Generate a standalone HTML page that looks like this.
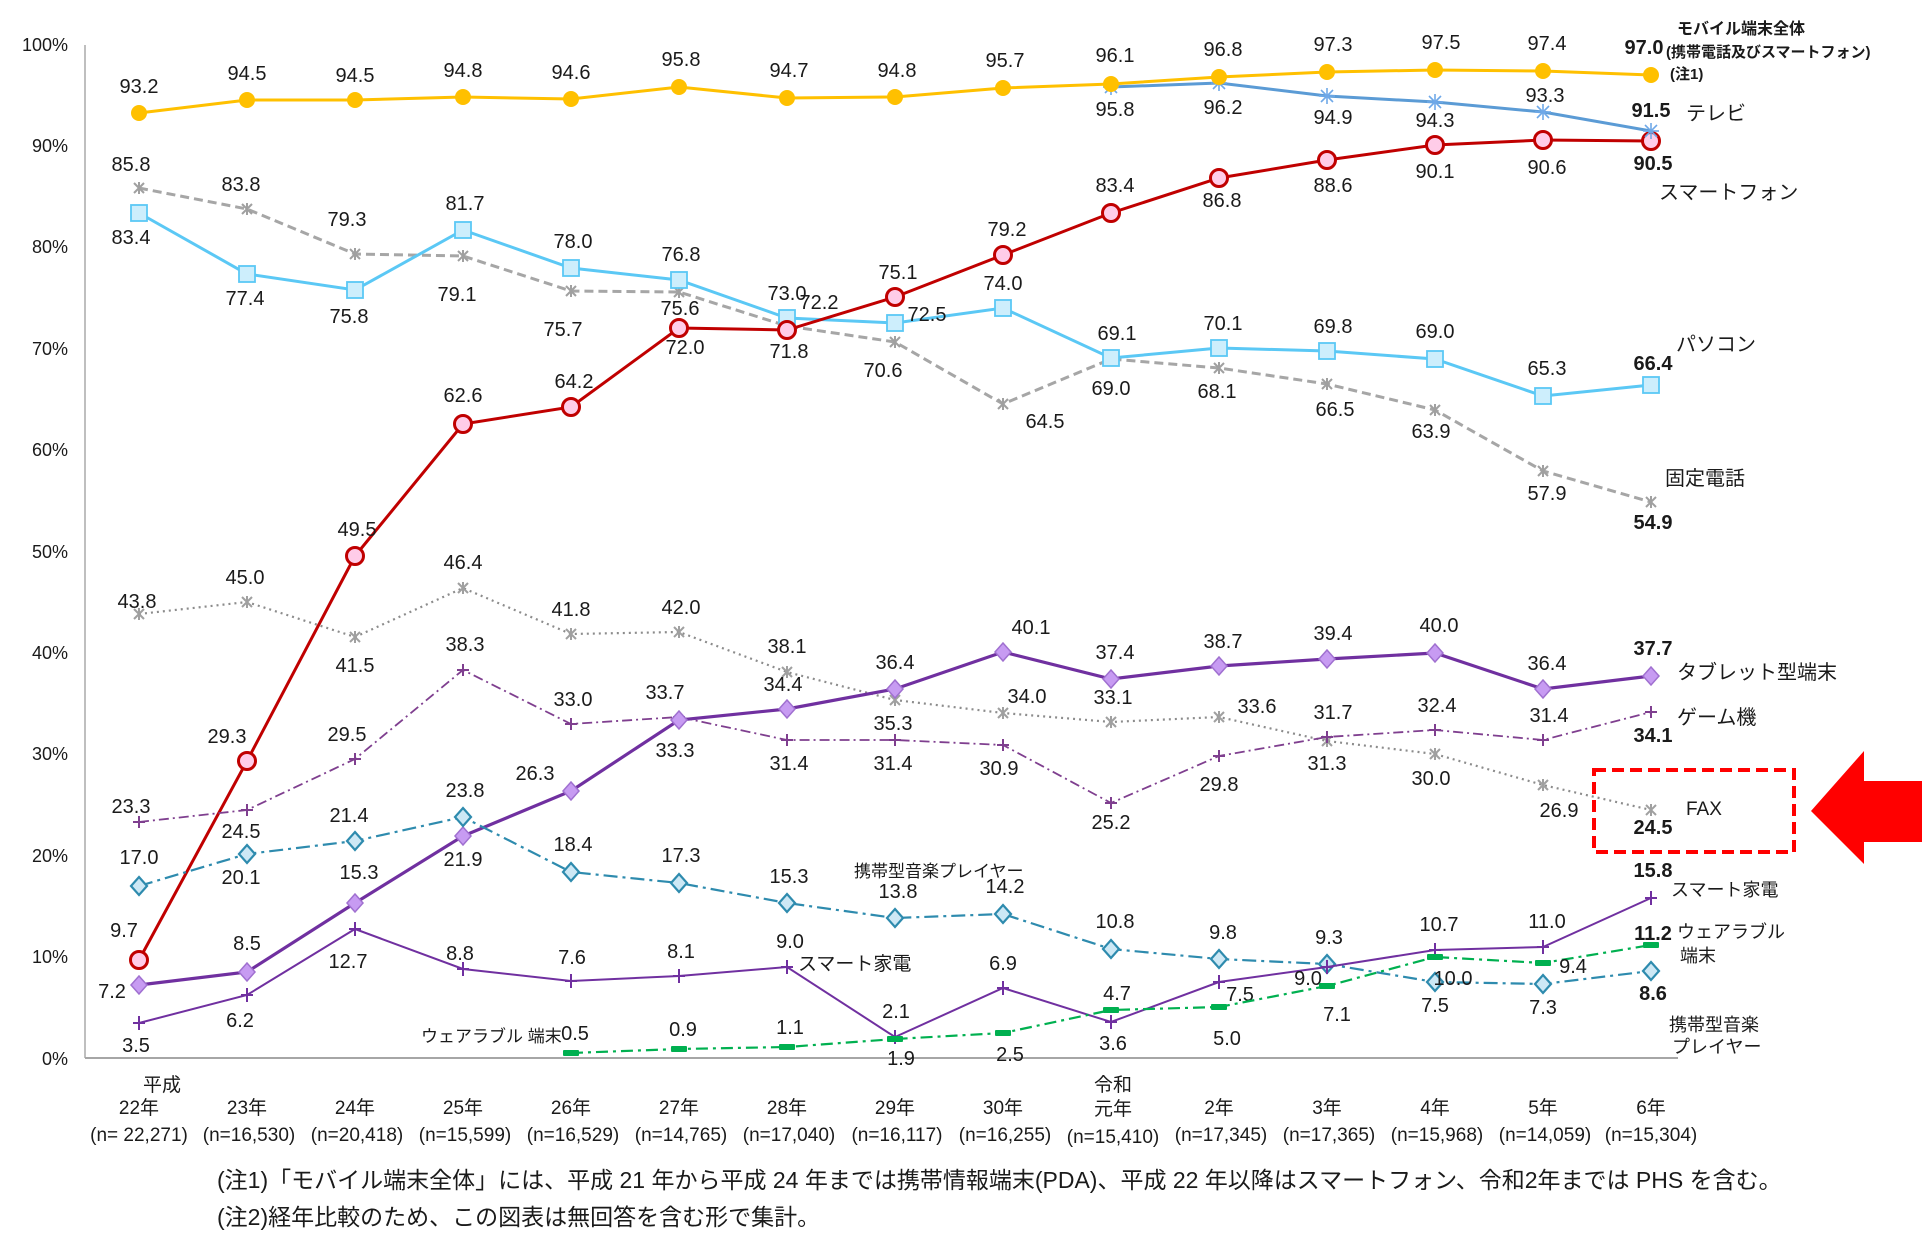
<!DOCTYPE html>
<html><head><meta charset="utf-8"><style>
html,body{margin:0;padding:0;background:#fff}
svg{display:block}
text{font-family:"Liberation Sans","Noto Sans CJK JP",sans-serif;fill:#1a1a1a}
.v{font-size:20px;text-anchor:middle}
.b{font-weight:bold}
.ax{font-size:18px;text-anchor:end}
.c{font-size:19px;text-anchor:middle}
.j{font-size:19px}
</style></head><body>
<svg width="1931" height="1247" viewBox="0 0 1931 1247" xmlns="http://www.w3.org/2000/svg">
<defs>
<g id="mo"><circle r="8" fill="#FFC000"/></g>
<g id="tv" stroke="#6FA8E8" stroke-width="1.6"><line x1="-8" y1="0" x2="8" y2="0"/><line x1="0" y1="-8" x2="0" y2="8"/><line x1="-6" y1="-6" x2="6" y2="6"/><line x1="-6" y1="6" x2="6" y2="-6"/></g>
<g id="sp"><circle r="8.5" fill="#FFCCE8" stroke="#C00000" stroke-width="3"/></g>
<g id="pc"><rect x="-8" y="-8" width="16" height="16" fill="#CDEEFC" stroke="#5BC8F5" stroke-width="1.8"/></g>
<g id="xg" stroke="#A0A0A0" stroke-width="2"><line x1="-5" y1="-5" x2="5" y2="5"/><line x1="-5" y1="5" x2="5" y2="-5"/><line x1="0" y1="-6" x2="0" y2="6"/></g>
<g id="tb"><path d="M0,-9 L8,0 L0,9 L-8,0Z" fill="#C79BF2" stroke="#A070D0" stroke-width="1.5"/></g>
<g id="gm" stroke="#7F3F8F" stroke-width="2"><line x1="-6" y1="0" x2="6" y2="0"/><line x1="0" y1="-6" x2="0" y2="6"/></g>
<g id="mu"><path d="M0,-9 L8,0 L0,9 L-8,0Z" fill="#CDE8F5" stroke="#2E8BAE" stroke-width="2.2"/></g>
<g id="ap" stroke="#7030A0" stroke-width="2"><line x1="-6" y1="0" x2="6" y2="0"/><line x1="0" y1="-7" x2="0" y2="7"/></g>
<g id="we"><rect x="-8" y="-3" width="16" height="6" rx="1" fill="#00B050"/></g>
</defs>

<line x1="85" y1="45" x2="85" y2="1058" stroke="#BFBFBF" stroke-width="2"/>
<line x1="85" y1="1058" x2="1678" y2="1058" stroke="#A6A6A6" stroke-width="2"/>
<text class="ax" x="68" y="51">100%</text>
<text class="ax" x="68" y="152">90%</text>
<text class="ax" x="68" y="253">80%</text>
<text class="ax" x="68" y="355">70%</text>
<text class="ax" x="68" y="456">60%</text>
<text class="ax" x="68" y="558">50%</text>
<text class="ax" x="68" y="659">40%</text>
<text class="ax" x="68" y="760">30%</text>
<text class="ax" x="68" y="862">20%</text>
<text class="ax" x="68" y="963">10%</text>
<text class="ax" x="68" y="1065">0%</text>

<g class="c">
<text class="c" x="162" y="1091">平成</text>
<text class="c" x="139" y="1114">22年</text><text class="c" x="247" y="1114">23年</text><text class="c" x="355" y="1114">24年</text><text class="c" x="463" y="1114">25年</text><text class="c" x="571" y="1114">26年</text><text class="c" x="679" y="1114">27年</text><text class="c" x="787" y="1114">28年</text><text class="c" x="895" y="1114">29年</text><text class="c" x="1003" y="1114">30年</text>
<text class="c" x="1113" y="1091">令和</text><text class="c" x="1113" y="1115">元年</text>
<text class="c" x="1219" y="1114">2年</text><text class="c" x="1327" y="1114">3年</text><text class="c" x="1435" y="1114">4年</text><text class="c" x="1543" y="1114">5年</text><text class="c" x="1651" y="1114">6年</text>
<text class="c" x="139" y="1141">(n= 22,271)</text><text class="c" x="249" y="1141">(n=16,530)</text><text class="c" x="357" y="1141">(n=20,418)</text><text class="c" x="465" y="1141">(n=15,599)</text><text class="c" x="573" y="1141">(n=16,529)</text><text class="c" x="681" y="1141">(n=14,765)</text><text class="c" x="789" y="1141">(n=17,040)</text><text class="c" x="897" y="1141">(n=16,117)</text><text class="c" x="1005" y="1141">(n=16,255)</text><text class="c" x="1113" y="1143">(n=15,410)</text><text class="c" x="1221" y="1141">(n=17,345)</text><text class="c" x="1329" y="1141">(n=17,365)</text><text class="c" x="1437" y="1141">(n=15,968)</text><text class="c" x="1545" y="1141">(n=14,059)</text><text class="c" x="1651" y="1141">(n=15,304)</text>
</g>
<text x="217" y="1188" style="font-size:23px">(注1)「モバイル端末全体」には、平成 21 年から平成 24 年までは携帯情報端末(PDA)、平成 22 年以降はスマートフォン、令和2年までは PHS を含む。</text>
<text x="217" y="1225" style="font-size:23px">(注2)経年比較のため、この図表は無回答を含む形で集計。</text>

<polyline fill="none" stroke="#8C8C8C" stroke-width="2.2" stroke-dasharray="2,4" points="139,614 247,602 355,637 463,588 571,634 679,632 787,672 895,700 1003,713 1111,722 1219,717 1327,741 1435,754 1543,785 1651,810"/>
<g fill="none"><use href="#xg" x="139" y="614"/><use href="#xg" x="247" y="602"/><use href="#xg" x="355" y="637"/><use href="#xg" x="463" y="588"/><use href="#xg" x="571" y="634"/><use href="#xg" x="679" y="632"/><use href="#xg" x="787" y="672"/><use href="#xg" x="895" y="700"/><use href="#xg" x="1003" y="713"/><use href="#xg" x="1111" y="722"/><use href="#xg" x="1219" y="717"/><use href="#xg" x="1327" y="741"/><use href="#xg" x="1435" y="754"/><use href="#xg" x="1543" y="785"/><use href="#xg" x="1651" y="810"/></g>
<text class="v" x="137" y="608">43.8</text><text class="v" x="245" y="584">45.0</text><text class="v" x="355" y="672">41.5</text><text class="v" x="463" y="569">46.4</text><text class="v" x="571" y="616">41.8</text><text class="v" x="681" y="614">42.0</text><text class="v" x="787" y="653">38.1</text><text class="v" x="893" y="730">35.3</text><text class="v" x="1027" y="703">34.0</text><text class="v" x="1113" y="704">33.1</text><text class="v" x="1257" y="713">33.6</text><text class="v" x="1327" y="770">31.3</text><text class="v" x="1431" y="785">30.0</text><text class="v" x="1559" y="817">26.9</text><text class="v b" x="1653" y="834">24.5</text>

<polyline fill="none" stroke="#A6A6A6" stroke-width="3" stroke-dasharray="9,5" points="139,188 247,209 355,254 463,256 571,291 679,292 787,326 895,342 1003,404 1111,359 1219,368 1327,384 1435,410 1543,471 1651,502"/>
<g><use href="#xg" x="139" y="188"/><use href="#xg" x="247" y="209"/><use href="#xg" x="355" y="254"/><use href="#xg" x="463" y="256"/><use href="#xg" x="571" y="291"/><use href="#xg" x="679" y="292"/><use href="#xg" x="787" y="326"/><use href="#xg" x="895" y="342"/><use href="#xg" x="1003" y="404"/><use href="#xg" x="1111" y="359"/><use href="#xg" x="1219" y="368"/><use href="#xg" x="1327" y="384"/><use href="#xg" x="1435" y="410"/><use href="#xg" x="1543" y="471"/><use href="#xg" x="1651" y="502"/></g>
<text class="v" x="131" y="171">85.8</text><text class="v" x="241" y="191">83.8</text><text class="v" x="347" y="226">79.3</text><text class="v" x="457" y="301">79.1</text><text class="v" x="563" y="336">75.7</text><text class="v" x="680" y="315">75.6</text><text class="v" x="819" y="309">72.2</text><text class="v" x="883" y="377">70.6</text><text class="v" x="1045" y="428">64.5</text><text class="v" x="1111" y="395">69.0</text><text class="v" x="1217" y="398">68.1</text><text class="v" x="1335" y="416">66.5</text><text class="v" x="1431" y="438">63.9</text><text class="v" x="1547" y="500">57.9</text><text class="v b" x="1653" y="529">54.9</text>

<polyline fill="none" stroke="#5BC8F5" stroke-width="3" points="139,213 247,274 355,290 463,230 571,268 679,280 787,318 895,323 1003,308 1111,358 1219,348 1327,351 1435,359 1543,396 1651,385"/>
<g><use href="#pc" x="139" y="213"/><use href="#pc" x="247" y="274"/><use href="#pc" x="355" y="290"/><use href="#pc" x="463" y="230"/><use href="#pc" x="571" y="268"/><use href="#pc" x="679" y="280"/><use href="#pc" x="787" y="318"/><use href="#pc" x="895" y="323"/><use href="#pc" x="1003" y="308"/><use href="#pc" x="1111" y="358"/><use href="#pc" x="1219" y="348"/><use href="#pc" x="1327" y="351"/><use href="#pc" x="1435" y="359"/><use href="#pc" x="1543" y="396"/><use href="#pc" x="1651" y="385"/></g>
<text class="v" x="131" y="244">83.4</text><text class="v" x="245" y="305">77.4</text><text class="v" x="349" y="323">75.8</text><text class="v" x="465" y="210">81.7</text><text class="v" x="573" y="248">78.0</text><text class="v" x="681" y="261">76.8</text><text class="v" x="787" y="300">73.0</text><text class="v" x="927" y="321">72.5</text><text class="v" x="1003" y="290">74.0</text><text class="v" x="1117" y="340">69.1</text><text class="v" x="1223" y="330">70.1</text><text class="v" x="1333" y="333">69.8</text><text class="v" x="1435" y="338">69.0</text><text class="v" x="1547" y="375">65.3</text><text class="v b" x="1653" y="370">66.4</text>

<polyline fill="none" stroke="#C00000" stroke-width="3" points="139,960 247,761 355,556 463,424 571,407 679,328 787,330 895,297 1003,255 1111,213 1219,178 1327,160 1435,145 1543,140 1651,141"/>
<g><use href="#sp" x="139" y="960"/><use href="#sp" x="247" y="761"/><use href="#sp" x="355" y="556"/><use href="#sp" x="463" y="424"/><use href="#sp" x="571" y="407"/><use href="#sp" x="679" y="328"/><use href="#sp" x="787" y="330"/><use href="#sp" x="895" y="297"/><use href="#sp" x="1003" y="255"/><use href="#sp" x="1111" y="213"/><use href="#sp" x="1219" y="178"/><use href="#sp" x="1327" y="160"/><use href="#sp" x="1435" y="145"/><use href="#sp" x="1543" y="140"/><use href="#sp" x="1651" y="141"/></g>
<text class="v" x="124" y="937">9.7</text><text class="v" x="227" y="743">29.3</text><text class="v" x="357" y="536">49.5</text><text class="v" x="463" y="402">62.6</text><text class="v" x="574" y="388">64.2</text><text class="v" x="685" y="354">72.0</text><text class="v" x="789" y="358">71.8</text><text class="v" x="898" y="279">75.1</text><text class="v" x="1007" y="236">79.2</text><text class="v" x="1115" y="192">83.4</text><text class="v" x="1222" y="207">86.8</text><text class="v" x="1333" y="192">88.6</text><text class="v" x="1435" y="178">90.1</text><text class="v" x="1547" y="174">90.6</text><text class="v b" x="1653" y="170">90.5</text>

<polyline fill="none" stroke="#5B9BD5" stroke-width="3" points="1111,87 1219,83 1327,96 1435,102 1543,112 1651,131"/>
<g><use href="#tv" x="1111" y="87"/><use href="#tv" x="1219" y="83"/><use href="#tv" x="1327" y="96"/><use href="#tv" x="1435" y="102"/><use href="#tv" x="1543" y="112"/><use href="#tv" x="1651" y="131"/></g>
<text class="v" x="1115" y="116">95.8</text><text class="v" x="1223" y="114">96.2</text><text class="v" x="1333" y="124">94.9</text><text class="v" x="1435" y="127">94.3</text><text class="v" x="1545" y="102">93.3</text><text class="v b" x="1651" y="117">91.5</text>

<polyline fill="none" stroke="#FFC000" stroke-width="3" points="139,113 247,100 355,100 463,97 571,99 679,87 787,98 895,97 1003,88 1111,84 1219,77 1327,72 1435,70 1543,71 1651,75"/>
<g><use href="#mo" x="139" y="113"/><use href="#mo" x="247" y="100"/><use href="#mo" x="355" y="100"/><use href="#mo" x="463" y="97"/><use href="#mo" x="571" y="99"/><use href="#mo" x="679" y="87"/><use href="#mo" x="787" y="98"/><use href="#mo" x="895" y="97"/><use href="#mo" x="1003" y="88"/><use href="#mo" x="1111" y="84"/><use href="#mo" x="1219" y="77"/><use href="#mo" x="1327" y="72"/><use href="#mo" x="1435" y="70"/><use href="#mo" x="1543" y="71"/><use href="#mo" x="1651" y="75"/></g>
<text class="v" x="139" y="93">93.2</text><text class="v" x="247" y="80">94.5</text><text class="v" x="355" y="82">94.5</text><text class="v" x="463" y="77">94.8</text><text class="v" x="571" y="79">94.6</text><text class="v" x="681" y="66">95.8</text><text class="v" x="789" y="77">94.7</text><text class="v" x="897" y="77">94.8</text><text class="v" x="1005" y="67">95.7</text><text class="v" x="1115" y="62">96.1</text><text class="v" x="1223" y="56">96.8</text><text class="v" x="1333" y="51">97.3</text><text class="v" x="1441" y="49">97.5</text><text class="v" x="1547" y="50">97.4</text><text class="v b" x="1644" y="54">97.0</text>

<polyline fill="none" stroke="#7F3F8F" stroke-width="1.8" stroke-dasharray="10,4,2,4" points="139,822 247,810 355,759 463,670 571,724 679,717 787,740 895,740 1003,745 1111,803 1219,756 1327,737 1435,730 1543,740 1651,712"/>
<g><use href="#gm" x="139" y="822"/><use href="#gm" x="247" y="810"/><use href="#gm" x="355" y="759"/><use href="#gm" x="463" y="670"/><use href="#gm" x="571" y="724"/><use href="#gm" x="679" y="717"/><use href="#gm" x="787" y="740"/><use href="#gm" x="895" y="740"/><use href="#gm" x="1003" y="745"/><use href="#gm" x="1111" y="803"/><use href="#gm" x="1219" y="756"/><use href="#gm" x="1327" y="737"/><use href="#gm" x="1435" y="730"/><use href="#gm" x="1543" y="740"/><use href="#gm" x="1651" y="712"/></g>
<text class="v" x="131" y="813">23.3</text><text class="v" x="241" y="838">24.5</text><text class="v" x="347" y="741">29.5</text><text class="v" x="465" y="651">38.3</text><text class="v" x="573" y="706">33.0</text><text class="v" x="665" y="699">33.7</text><text class="v" x="789" y="770">31.4</text><text class="v" x="893" y="770">31.4</text><text class="v" x="999" y="775">30.9</text><text class="v" x="1111" y="829">25.2</text><text class="v" x="1219" y="791">29.8</text><text class="v" x="1333" y="719">31.7</text><text class="v" x="1437" y="712">32.4</text><text class="v" x="1549" y="722">31.4</text><text class="v b" x="1653" y="742">34.1</text>

<polyline fill="none" stroke="#7030A0" stroke-width="3.2" points="139,985 247,972 355,903 463,836 571,791 679,720 787,709 895,689 1003,652 1111,679 1219,666 1327,659 1435,653 1543,689 1651,676"/>
<g><use href="#tb" x="139" y="985"/><use href="#tb" x="247" y="972"/><use href="#tb" x="355" y="903"/><use href="#tb" x="463" y="836"/><use href="#tb" x="571" y="791"/><use href="#tb" x="679" y="720"/><use href="#tb" x="787" y="709"/><use href="#tb" x="895" y="689"/><use href="#tb" x="1003" y="652"/><use href="#tb" x="1111" y="679"/><use href="#tb" x="1219" y="666"/><use href="#tb" x="1327" y="659"/><use href="#tb" x="1435" y="653"/><use href="#tb" x="1543" y="689"/><use href="#tb" x="1651" y="676"/></g>
<text class="v" x="112" y="998">7.2</text><text class="v" x="247" y="950">8.5</text><text class="v" x="359" y="879">15.3</text><text class="v" x="463" y="866">21.9</text><text class="v" x="535" y="780">26.3</text><text class="v" x="675" y="757">33.3</text><text class="v" x="783" y="691">34.4</text><text class="v" x="895" y="669">36.4</text><text class="v" x="1031" y="634">40.1</text><text class="v" x="1115" y="659">37.4</text><text class="v" x="1223" y="648">38.7</text><text class="v" x="1333" y="640">39.4</text><text class="v" x="1439" y="632">40.0</text><text class="v" x="1547" y="670">36.4</text><text class="v b" x="1653" y="655">37.7</text>

<polyline fill="none" stroke="#2E8BAE" stroke-width="2.2" stroke-dasharray="14,5,3,5" points="139,886 247,854 355,841 463,817 571,872 679,883 787,903 895,918 1003,914 1111,949 1219,959 1327,964 1435,982 1543,984 1651,971"/>
<g><use href="#mu" x="139" y="886"/><use href="#mu" x="247" y="854"/><use href="#mu" x="355" y="841"/><use href="#mu" x="463" y="817"/><use href="#mu" x="571" y="872"/><use href="#mu" x="679" y="883"/><use href="#mu" x="787" y="903"/><use href="#mu" x="895" y="918"/><use href="#mu" x="1003" y="914"/><use href="#mu" x="1111" y="949"/><use href="#mu" x="1219" y="959"/><use href="#mu" x="1327" y="964"/><use href="#mu" x="1435" y="982"/><use href="#mu" x="1543" y="984"/><use href="#mu" x="1651" y="971"/></g>
<text class="v" x="139" y="864">17.0</text><text class="v" x="241" y="884">20.1</text><text class="v" x="349" y="822">21.4</text><text class="v" x="465" y="797">23.8</text><text class="v" x="573" y="851">18.4</text><text class="v" x="681" y="862">17.3</text><text class="v" x="789" y="883">15.3</text><text class="v" x="898" y="898">13.8</text><text class="v" x="1005" y="893">14.2</text><text class="v" x="1115" y="928">10.8</text><text class="v" x="1223" y="939">9.8</text><text class="v" x="1329" y="944">9.3</text><text class="v" x="1435" y="1012">7.5</text><text class="v" x="1543" y="1014">7.3</text><text class="v b" x="1653" y="1000">8.6</text>
<text class="j" x="854" y="877" style="font-size:17px">携帯型音楽プレイヤー</text>

<polyline fill="none" stroke="#7030A0" stroke-width="2" points="139,1023 247,995 355,929 463,969 571,981 679,976 787,967 895,1037 1003,988 1111,1022 1219,982 1327,967 1435,950 1543,947 1651,898"/>
<g><use href="#ap" x="139" y="1023"/><use href="#ap" x="247" y="995"/><use href="#ap" x="355" y="929"/><use href="#ap" x="463" y="969"/><use href="#ap" x="571" y="981"/><use href="#ap" x="679" y="976"/><use href="#ap" x="787" y="967"/><use href="#ap" x="895" y="1037"/><use href="#ap" x="1003" y="988"/><use href="#ap" x="1111" y="1022"/><use href="#ap" x="1219" y="982"/><use href="#ap" x="1327" y="967"/><use href="#ap" x="1435" y="950"/><use href="#ap" x="1543" y="947"/><use href="#ap" x="1651" y="898"/></g>
<text class="v" x="136" y="1052">3.5</text><text class="v" x="240" y="1027">6.2</text><text class="v" x="348" y="968">12.7</text><text class="v" x="460" y="960">8.8</text><text class="v" x="572" y="964">7.6</text><text class="v" x="681" y="958">8.1</text><text class="v" x="790" y="948">9.0</text><text class="v" x="896" y="1018">2.1</text><text class="v" x="1003" y="970">6.9</text><text class="v" x="1113" y="1050">3.6</text><text class="v" x="1240" y="1001">7.5</text><text class="v" x="1308" y="985">9.0</text><text class="v" x="1439" y="931">10.7</text><text class="v" x="1547" y="928">11.0</text><text class="v b" x="1653" y="877">15.8</text>
<text class="j" x="798" y="970">スマート家電</text>

<polyline fill="none" stroke="#00B050" stroke-width="2.2" stroke-dasharray="12,5,3,5" points="571,1053 679,1049 787,1047 895,1039 1003,1033 1111,1010 1219,1007 1327,986 1435,957 1543,963 1651,945"/>
<g><use href="#we" x="571" y="1053"/><use href="#we" x="679" y="1049"/><use href="#we" x="787" y="1047"/><use href="#we" x="895" y="1039"/><use href="#we" x="1003" y="1033"/><use href="#we" x="1111" y="1010"/><use href="#we" x="1219" y="1007"/><use href="#we" x="1327" y="986"/><use href="#we" x="1435" y="957"/><use href="#we" x="1543" y="963"/><use href="#we" x="1651" y="945"/></g>
<text class="v" x="575" y="1040">0.5</text><text class="v" x="683" y="1036">0.9</text><text class="v" x="790" y="1034">1.1</text><text class="v" x="901" y="1065">1.9</text><text class="v" x="1010" y="1061">2.5</text><text class="v" x="1117" y="1000">4.7</text><text class="v" x="1227" y="1045">5.0</text><text class="v" x="1337" y="1021">7.1</text><text class="v" x="1453" y="985">10.0</text><text class="v" x="1573" y="973">9.4</text><text class="v b" x="1653" y="940">11.2</text>
<text class="j" x="421" y="1042" style="font-size:17px">ウェアラブル 端末</text>

<text x="1677" y="34" style="font-size:16px;font-weight:bold">モバイル端末全体</text>
<text x="1666" y="57" style="font-size:15px;font-weight:bold">(携帯電話及びスマートフォン)</text>
<text x="1670" y="79" style="font-size:15px;font-weight:bold">(注1)</text>
<text x="1686" y="120" style="font-size:20px">テレビ</text>
<text x="1659" y="199" style="font-size:20px">スマートフォン</text>
<text x="1676" y="351" style="font-size:20px">パソコン</text>
<text x="1665" y="485" style="font-size:20px">固定電話</text>
<text x="1677" y="679" style="font-size:20px">タブレット型端末</text>
<text x="1677" y="724" style="font-size:20px">ゲーム機</text>
<text x="1686" y="815" style="font-size:19px">FAX</text>
<text x="1671" y="896" style="font-size:18px">スマート家電</text>
<text x="1677" y="938" style="font-size:18px">ウェアラブル</text>
<text x="1680" y="962" style="font-size:18px">端末</text>
<text x="1669" y="1031" style="font-size:18px">携帯型音楽</text>
<text x="1672" y="1053" style="font-size:18px">プレイヤー</text>

<rect x="1594" y="770" width="200" height="82" fill="none" stroke="#FF0000" stroke-width="4" stroke-dasharray="12,6"/>
<polygon points="1811,811 1864,751 1864,781 1922,781 1922,842 1864,842 1864,864" fill="#FF0000"/>
</svg>
</body></html>
